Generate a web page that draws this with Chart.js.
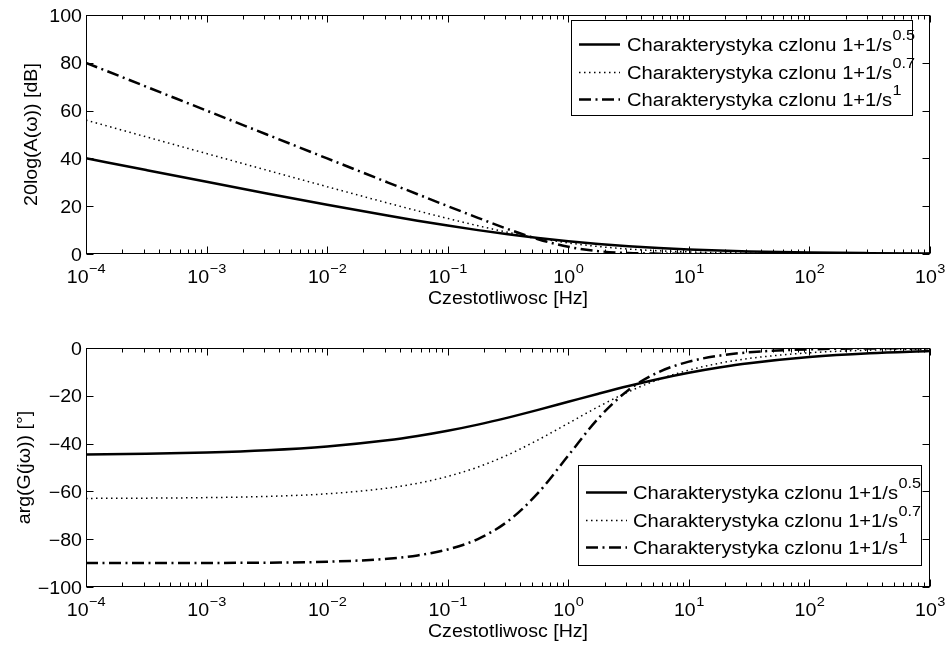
<!DOCTYPE html>
<html><head><meta charset="utf-8">
<script src="https://cdn.jsdelivr.net/npm/chart.js@4.4.0/dist/chart.umd.min.js"></script>
<style>
html,body{margin:0;padding:0;background:#fff;overflow:hidden}
#wrap{position:relative;width:946px;height:646px;background:#fff}
canvas{position:absolute;left:0}
#c1{top:0}
#c2{top:320px}
</style></head><body>
<div id="wrap"><canvas id="c1" width="946" height="320"></canvas><canvas id="c2" width="946" height="326"></canvas></div>
<script>
// ---- data ----
const freq = [1e-4, 3.16e-4, 1e-3, 3.16e-3, 0.01, 0.0316, 0.0562, 0.1, 0.178, 0.316, 0.562, 1, 1.78, 3.16, 5.62, 10, 17.8, 31.6, 100, 316, 1000];
const mag05 = [40.06, 35.11, 30.19, 25.35, 20.61, 16.08, 13.94, 11.90, 9.99, 8.25, 6.69, 5.33, 4.19, 3.25, 2.49, 1.90, 1.44, 1.08, 0.61, 0.35, 0.19];
const mag07 = [56.01, 49.01, 42.03, 35.07, 28.16, 21.37, 18.07, 14.87, 11.84, 9.06, 6.63, 4.64, 3.13, 2.06, 1.34, 0.87, 0.57, 0.37, 0.16, 0.07, 0.03];
const mag1  = [80.00, 70.00, 60.00, 50.00, 40.00, 30.00, 25.01, 20.04, 15.14, 10.41, 6.19, 3.01, 1.19, 0.41, 0.14, 0.04, 0.01, 0.00, 0.00, 0.00, 0.00];
const ph05 = [-44.60, -44.29, -43.75, -42.81, -41.22, -38.63, -36.83, -34.64, -32.06, -29.12, -25.89, -22.50, -19.11, -15.88, -12.94, -10.36, -8.17, -6.37, -3.78, -2.19, -1.25];
const ph07 = [-62.93, -62.82, -62.60, -62.10, -61.00, -58.63, -56.60, -53.74, -49.81, -44.69, -38.44, -31.50, -24.55, -18.31, -13.18, -9.26, -6.39, -4.36, -2.00, -0.90, -0.40];
const ph1  = [-89.99, -89.98, -89.94, -89.82, -89.43, -88.19, -86.78, -84.29, -79.92, -72.45, -60.65, -45.00, -29.35, -17.55, -10.08, -5.71, -3.22, -1.81, -0.57, -0.18, -0.06];
const seriesLabels = ['Charakterystyka czlonu 1+1/s^0.5', 'Charakterystyka czlonu 1+1/s^0.7', 'Charakterystyka czlonu 1+1/s^1'];
const xTickExponents = [-4, -3, -2, -1, 0, 1, 2, 3];
const magTicks = [0, 20, 40, 60, 80, 100];
const phaseTicks = [-100, -80, -60, -40, -20, 0];
const xTitle = 'Czestotliwosc [Hz]';
const magTitle = '20log(A(\u03C9)) [dB]';
const phaseTitle = 'arg(G(j\u03C9)) [\u00B0]';

// ---- styles ----
const FONT = '"Liberation Sans", Arial, Helvetica, sans-serif';
const SX = 1.12;
const lineStyles = [
  {w: 2.5, dash: []},
  {w: 1.5, dash: [1.5, 3.5]},
  {w: 2.5, dash: [12, 4.5, 2, 4.5]}
];

function measure(ctx, s, size) { ctx.font = size + 'px ' + FONT; return ctx.measureText(s).width * SX; }
function txt(ctx, s, x, y, size, align, rot) {
  ctx.save();
  ctx.font = size + 'px ' + FONT;
  ctx.textBaseline = 'alphabetic';
  ctx.textAlign = 'left';
  const w = ctx.measureText(s).width * SX;
  ctx.translate(x, y);
  if (rot) ctx.rotate(rot);
  const x0 = align === 'center' ? -w / 2 : align === 'right' ? -w : 0;
  ctx.translate(x0, 0);
  ctx.scale(SX, 1);
  ctx.fillText(s, 0, 0);
  ctx.restore();
  return w;
}

function makePlugin(cfg) {
  return {
    id: 'matlab_' + cfg.id,
    afterDatasetsDraw(chart) {
      const ctx = chart.ctx, a = chart.chartArea, xs = chart.scales.x, ys = chart.scales.y;
      ctx.save();
      ctx.strokeStyle = '#000'; ctx.fillStyle = '#000'; ctx.lineWidth = 1;
      const L = Math.round(a.left) + 0.5, R = Math.round(a.right) - 0.5;
      const T = Math.round(a.top) + 0.5, B = Math.round(a.bottom) - 0.5;
      ctx.beginPath();
      xTickExponents.forEach(e => {
        for (let k = 1; k <= 9; k++) {
          const v = k * Math.pow(10, e);
          if (v > xs.max * 1.0001) break;
          const px = Math.round(xs.getPixelForValue(v)) + 0.5;
          const len = k === 1 ? 7 : 4;
          ctx.moveTo(px, B); ctx.lineTo(px, B - len);
          ctx.moveTo(px, T); ctx.lineTo(px, T + len);
        }
      });
      ys.ticks.forEach(t => {
        const py = Math.round(ys.getPixelForValue(t.value)) + 0.5;
        ctx.moveTo(L, py); ctx.lineTo(L + 7, py);
        ctx.moveTo(R, py); ctx.lineTo(R - 7, py);
      });
      ctx.stroke();
      ctx.strokeRect(L, T, R - L, B - T);

      // y tick labels
      ys.ticks.forEach(t => {
        const py = ys.getPixelForValue(t.value);
        const lab = t.value < 0 ? '\u2212' + Math.abs(t.value) : String(t.value);
        txt(ctx, lab, a.left - 4, py + 6.5, 17.5, 'right');
      });
      // x tick labels 10^e
      xTickExponents.forEach(e => {
        const px = xs.getPixelForValue(Math.pow(10, e));
        const ex = e < 0 ? '\u2212' + (-e) : String(e);
        const w1 = measure(ctx, '10', 17.5), w2 = measure(ctx, ex, 13);
        const s = px - (w1 + w2) / 2;
        txt(ctx, '10', s, B + 29.5, 17.5, 'left');
        txt(ctx, ex, s + w1 + 0.5, B + 19, 13, 'left');
      });
      // titles
      txt(ctx, xTitle, (a.left + a.right) / 2, B + 50, 17.5, 'center');
      txt(ctx, cfg.yTitle, cfg.yTitleX, (a.top + a.bottom) / 2, 17.5, 'center', -Math.PI / 2);

      // legend
      const lg = cfg.legend;
      ctx.fillStyle = '#fff';
      ctx.fillRect(lg.x, lg.y, lg.w, lg.h);
      ctx.strokeStyle = '#000';
      ctx.lineWidth = 1;
      ctx.strokeRect(lg.x + 0.5, lg.y + 0.5, lg.w, lg.h);
      ctx.fillStyle = '#000';
      chart.data.datasets.forEach((ds, i) => {
        const ry = lg.rows[i];
        ctx.save();
        ctx.beginPath();
        ctx.lineWidth = ds.borderWidth;
        ctx.setLineDash(ds.borderDash || []);
        ctx.moveTo(lg.x + 8, ry + 0.5);
        ctx.lineTo(lg.x + 49, ry + 0.5);
        ctx.stroke();
        ctx.restore();
        const parts = ds.label.split('^');
        const w = txt(ctx, parts[0], lg.x + lg.tx, ry + 6.5, 18, 'left');
        if (parts[1]) txt(ctx, parts[1], lg.x + lg.tx + w + 0.5, ry - 4, 14.5, 'left');
      });
      ctx.restore();
    }
  };
}

function makeChart(id, arrays, yTicks, cfg) {
  return new Chart(document.getElementById(id), {
    type: 'line',
    data: {
      datasets: arrays.map((arr, i) => ({
        label: seriesLabels[i],
        data: freq.map((f, j) => ({x: f, y: arr[j]})),
        borderColor: '#000',
        backgroundColor: '#000',
        borderWidth: lineStyles[i].w,
        borderDash: lineStyles[i].dash,
        borderCapStyle: 'butt',
        pointRadius: 0,
        fill: false,
        cubicInterpolationMode: 'monotone'
      }))
    },
    options: {
      responsive: false, animation: false, devicePixelRatio: 1,
      layout: {padding: {left: 0, top: cfg.top, right: 16, bottom: 0}},
      plugins: {legend: {display: false}, tooltip: {enabled: false}, title: {display: false}},
      scales: {
        x: {
          type: 'logarithmic', min: 1e-4, max: 1e3,
          grid: {display: false, drawTicks: false}, border: {display: false},
          ticks: {display: false},
          afterFit(s) { s.height = cfg.xh; }
        },
        y: {
          type: 'linear', min: yTicks[0], max: yTicks[yTicks.length - 1],
          grid: {display: false, drawTicks: false}, border: {display: false},
          ticks: {display: false, stepSize: 20},
          afterBuildTicks(s) { s.ticks = yTicks.map(v => ({value: v})); },
          afterFit(s) { s.width = 86; }
        }
      }
    },
    plugins: [makePlugin(cfg)]
  });
}

makeChart('c1', [mag05, mag07, mag1], magTicks, {
  id: 'mag', top: 15, xh: 66, yTitle: magTitle, yTitleX: 37,
  legend: {x: 571, y: 20, w: 341, h: 95, tx: 56, rows: [44, 72, 99]}
});
makeChart('c2', [ph05, ph07, ph1], phaseTicks, {
  id: 'ph', top: 28, xh: 59, yTitle: phaseTitle, yTitleX: 30,
  legend: {x: 578, y: 145, w: 343, h: 100, tx: 55, rows: [172, 200, 227]}
});
</script>
</body></html>
